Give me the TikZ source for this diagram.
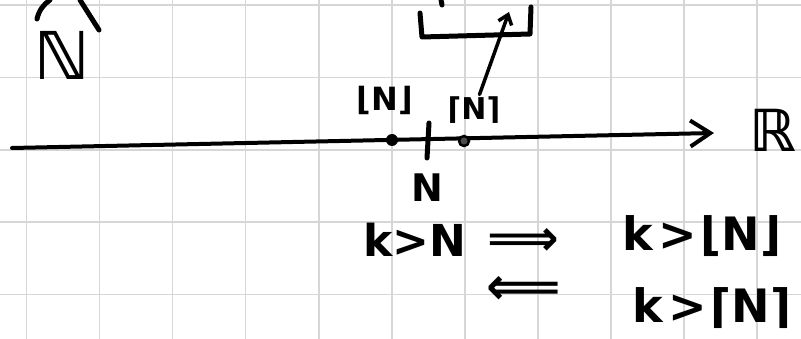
\documentclass[tikz,border=0pt]{standalone}
\usepackage{fontspec}
\setmainfont{DejaVu Sans}
\usetikzlibrary{arrows.meta}
\tikzset{
  ink/.style={line width=5pt, line cap=round, line join=round, black},
  gridline/.style={line width=1.6pt, black!16},
  txt/.style={inner sep=0pt, font=\fontsize{#1}{#1}\selectfont\bfseries},
  dotmark/.style={circle, fill=black, inner sep=0pt, minimum size=12pt},
  barb/.style={-{Straight Barb[length=20pt,width=26pt,line width=4pt]}},
  smallbarb/.style={-{Straight Barb[length=9pt,width=14pt,line width=3.5pt]}},
}
\begin{document}
\begin{tikzpicture}[x=1pt,y=-1pt]
% paper and squared grid
\fill[white] (0,0) rectangle (801,339);
\useasboundingbox (0,0) rectangle (801,339);
\foreach \k in {0,...,10} \draw[gridline] ({26.5+73.05*\k},0) -- ({26.5+73.05*\k},339);
\foreach \k in {0,...,4} \draw[gridline] (0,{5+72.4*\k}) -- (801,{5+72.4*\k});

% the set of naturals with the tip of its hat
\node[txt=66] (nat) at (62,55) {ℕ};
\draw[ink] (37,19) .. controls (39,10) and (44,4) .. (50,0);
\draw[ink] (80,0) -- (99,30);

% bracket at the top
\draw[ink] (420,13) -- (422,37) -- (530,34) -- (531,7);
\draw[ink] (441,0) -- (442,5);
\coordinate (brk) at (509,12);

% real number line
\coordinate (l0) at (12,148);
\coordinate (l1) at (714,133);
\draw[line width=4pt, line cap=round, barb] (l0) -- (l1);
\node[txt=58] (reals) at (773,130) {ℝ};

% floor, N and ceiling on the line
\node[dotmark] (fl) at (392,140) {};
\node[dotmark, fill=black!70, draw=black, line width=2.5pt, minimum size=10pt] (cl) at (464,141) {};
\draw[ink] (429,123) -- (427,158);
\node[txt=32] (fllab) at (385,100) {⌊N⌋};
\node[txt=30] (cllab) at (474,110) {⌈N⌉};
\node[txt=38] (nlab) at (427,188) {N};
\draw[ink, line width=3.5pt, smallbarb, shorten <=2pt] (cllab) -- (brk);

% implications
\node[txt=44] (kN) at (415,240) {k>N};
\node[txt=50] (imp) at (523,242) {⟹};
\node[txt=46] (kfl) at (702,236) {k\hspace{5pt}>\hspace{4pt}⌊N⌋};
\node[txt=52] (rimp) at (524,290) {⟸};
\node[txt=46] (kcl) at (712,308) {k\hspace{5pt}>\hspace{4pt}⌈N⌉};
\end{tikzpicture}
\end{document}
